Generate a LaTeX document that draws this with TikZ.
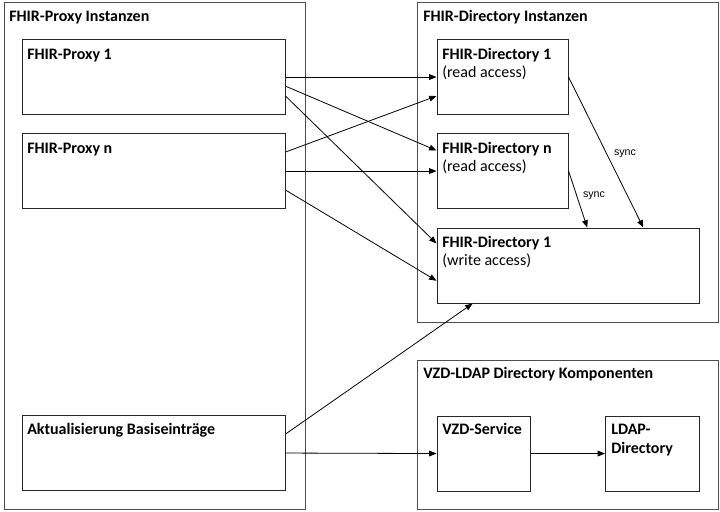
\documentclass[tikz,border=0pt]{standalone}
\usepackage{fontspec}
\setmainfont{Carlito}
\newfontfamily\syncfont{Liberation Sans}
\usetikzlibrary{calc,arrows.meta}
\tikzset{
  outerbox/.style={draw=black!70, line width=0.9pt},
  inbox/.style={draw=black!85, line width=0.8pt, fill=white, inner sep=0pt, anchor=north west},
  ttl/.style={anchor=base west, inner sep=0pt, font=\fontsize{12}{14}\selectfont\bfseries},
  sub/.style={anchor=base west, inner sep=0pt, font=\fontsize{12}{14}\selectfont},
  synclbl/.style={anchor=base, inner sep=0pt, font=\syncfont\fontsize{8}{9}\selectfont},
  conn/.style={draw=black, line width=0.6pt, -{Triangle[length=5.5pt,width=4.3pt]}},
  plain/.style={draw=black, line width=0.6pt}
}
\begin{document}
\begin{tikzpicture}[x=0.75pt,y=-0.75pt]
\useasboundingbox (0,0) rectangle (720,511);
% outer containers
\node[inbox, outerbox, minimum width=301.5*0.75pt, minimum height=507*0.75pt] (oL) at (3.5,2) {};
\node[inbox, outerbox, minimum width=301*0.75pt, minimum height=319.5*0.75pt] (oR) at (417,2) {};
\node[inbox, outerbox, minimum width=301*0.75pt, minimum height=149.5*0.75pt] (oV) at (417,359.5) {};
% inner boxes
\node[inbox, minimum width=262.5*0.75pt, minimum height=75*0.75pt] (p1) at (22,39) {};
\node[inbox, minimum width=262.5*0.75pt, minimum height=75*0.75pt] (pn) at (22,133) {};
\node[inbox, minimum width=262.5*0.75pt, minimum height=75*0.75pt] (ak) at (22,415) {};
\node[inbox, minimum width=131*0.75pt, minimum height=75*0.75pt] (d1) at (436.5,39) {};
\node[inbox, minimum width=131*0.75pt, minimum height=75*0.75pt] (dn) at (436.5,133) {};
\node[inbox, minimum width=262*0.75pt, minimum height=75*0.75pt] (dw) at (436.5,227.5) {};
\node[inbox, minimum width=93.5*0.75pt, minimum height=75*0.75pt] (vs) at (436.5,415.5) {};
\node[inbox, minimum width=94*0.75pt, minimum height=75*0.75pt] (ld) at (605,415.5) {};
% texts
\node[ttl] (tL) at (9,21) {FHIR-Proxy Instanzen};
\node[ttl] (tR) at (423,21) {FHIR-Directory Instanzen};
\node[ttl] (tV) at (423,378) {VZD-LDAP Directory Komponenten};
\node[ttl] (tp1) at (27,59) {FHIR-Proxy 1};
\node[ttl] (tpn) at (27,153) {FHIR-Proxy n};
\node[ttl] (tak) at (27,434) {Aktualisierung Basiseinträge};
\node[ttl] (td1) at (442,59) {FHIR-Directory 1};
\node[sub] (sd1) at (442,77) {(read access)};
\node[ttl] (tdn) at (442,153) {FHIR-Directory n};
\node[sub] (sdn) at (442,171) {(read access)};
\node[ttl] (tdw) at (442,247) {FHIR-Directory 1};
\node[sub] (sdw) at (442,265) {(write access)};
\node[ttl] (tvs) at (442,434) {VZD-Service};
\node[ttl] (tld1) at (611,434) {LDAP-};
\node[ttl] (tld2) at (611,453) {Directory};
% connectors
\draw[conn] ($(p1.north east)!0.5!(p1.south east)$) -- ($(d1.north west)!0.5!(d1.south west)$);
\draw[conn] ($(p1.north east)!0.62!(p1.south east)$) -- ($(dn.north west)!0.23!(dn.south west)$);
\draw[conn] ($(p1.north east)!0.75!(p1.south east)$) -- ($(dw.north west)!0.21!(dw.south west)$);
\draw[conn] ($(pn.north east)!0.25!(pn.south east)$) -- ($(d1.north west)!0.75!(d1.south west)$);
\draw[conn] ($(pn.north east)!0.5!(pn.south east)$) -- ($(dn.north west)!0.5!(dn.south west)$);
\draw[conn] ($(pn.north east)!0.75!(pn.south east)$) -- ($(dw.north west)!0.7!(dw.south west)$);
\draw[conn] ($(ak.north east)!0.25!(ak.south east)$) -- ($(dw.south west)!0.137!(dw.south east)$);
\draw[conn] ($(ak.north east)!0.5!(ak.south east)$) -- ($(vs.north west)!0.5!(vs.south west)$);
\draw[conn] ($(vs.north east)!0.5!(vs.south east)$) -- ($(ld.north west)!0.5!(ld.south west)$);
\draw[conn] ($(d1.north east)!0.5!(d1.south east)$) -- ($(dw.north west)!0.786!(dw.north east)$);
\draw[conn] ($(dn.north east)!0.5!(dn.south east)$) -- ($(dw.north west)!0.573!(dw.north east)$);
\node[synclbl] (s1) at (625,155) {sync};
\node[synclbl] (s2) at (594,197) {sync};
\end{tikzpicture}
\end{document}
